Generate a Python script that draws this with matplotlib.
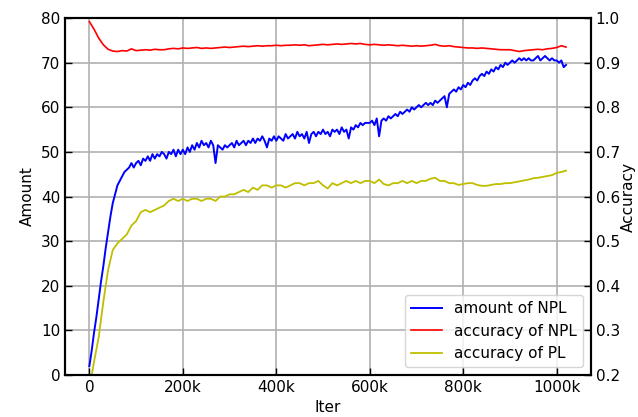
import numpy as np
import matplotlib
matplotlib.use("Agg")
import matplotlib.pyplot as plt

FS = 11

plt.rcParams.update({
    "font.family": "DejaVu Sans",
    "font.size": FS,
    "xtick.direction": "in",
    "ytick.direction": "in",
})

# iterations in thousands
npl_amount_x = list(range(0, 1021, 5))
npl_amount = [
    2, 5.5, 9.5, 13, 17, 21, 24.5, 28.5, 32, 35.5,
    38.5, 40.5, 42.5, 43.5, 44.5, 45.5, 46, 46.5, 47.5, 46.5,
    47.5, 48, 47, 48.5, 48, 49, 48, 49.5, 48.5, 49.5,
    49, 50, 49.5, 48.5, 50, 49.5, 50.5, 49, 50.5, 49.5,
    50.5, 49.5, 51, 50, 51.5, 50.5, 52, 51, 52.5, 51.5,
    52, 51, 52.5, 51.5, 47.5, 51.5, 51, 50.5, 51.5, 51,
    51.5, 52, 51, 52.5, 51.5, 52, 52.5, 51.5, 52.5, 52,
    53, 52, 53, 52.5, 53.5, 52.5, 51, 53, 52.5, 53.5,
    52.5, 53.5, 53, 52.5, 54, 53, 53.5, 54, 53, 54.5,
    53.5, 54, 53, 54.5, 52, 54, 54.5, 53.5, 54.5, 54,
    55, 54, 54.5, 53.5, 55, 54.5, 55, 54, 55.5, 54.5,
    55, 53, 55.5, 55, 56, 55.5, 56.5, 56, 56.5, 56.5,
    56.5, 57, 56, 57.5, 53.5, 57, 57.5, 57, 58, 57.5,
    58, 58.5, 58, 59, 58.5, 59, 59.5, 59, 60, 59.5,
    60, 60.5, 60, 60.5, 61, 60.5, 61, 60.5, 61.5, 61,
    61.5, 62, 62.5, 60, 63, 63.5, 64, 63.5, 64.5, 64,
    65, 64.5, 65.5, 65, 66, 66.5, 66, 67, 67.5, 67,
    68, 67.5, 68.5, 68, 69, 68.5, 69.5, 69, 70, 69.5,
    70, 70.5, 70, 70.5, 71, 70.5, 71, 70.5, 71, 70.5,
    70.5, 71, 71.5, 70.5, 71, 71.5, 71, 70.5, 71, 70.5,
    70.5, 70, 70.5, 69, 69.5,
]

acc_x = list(range(0, 1021, 10))
npl_acc = [
    0.992, 0.975, 0.955, 0.940, 0.930, 0.926, 0.925, 0.927, 0.926, 0.931,
    0.927, 0.928, 0.929, 0.928, 0.930, 0.929, 0.929, 0.931, 0.932, 0.931,
    0.933, 0.932, 0.933, 0.934, 0.932, 0.933, 0.932, 0.933, 0.934, 0.935,
    0.934, 0.935, 0.936, 0.937, 0.936, 0.937, 0.938, 0.937, 0.938, 0.938,
    0.939, 0.938, 0.939, 0.939, 0.940, 0.939, 0.940, 0.938, 0.939, 0.940,
    0.941, 0.940, 0.941, 0.942, 0.941, 0.942, 0.943, 0.942, 0.943, 0.941,
    0.940, 0.941, 0.940, 0.939, 0.940, 0.939, 0.938, 0.939, 0.938, 0.937,
    0.938, 0.937, 0.938, 0.939, 0.941, 0.938, 0.937, 0.938, 0.936, 0.935,
    0.934, 0.933, 0.933, 0.932, 0.933, 0.932, 0.931, 0.930, 0.929, 0.929,
    0.929, 0.927, 0.925, 0.927, 0.928, 0.929, 0.930, 0.929, 0.931, 0.932,
    0.934, 0.938, 0.935,
]

pl_x = [5] + list(range(10, 1021, 10))
pl_acc_amount = [
    0, 3, 8.5, 16.5, 23.5, 28, 29.5, 30.5, 31.5, 33.5,
    34.5, 36.5, 37, 36.5, 37, 37.5, 38, 39, 39.5, 39,
    39.5, 39, 39.5, 39.5, 39, 39.5, 39.5, 39, 40, 40,
    40.5, 40.5, 41, 41.5, 41, 42, 41.5, 42.5, 42.5, 42,
    42.5, 42.5, 42, 42.5, 43, 43, 42.5, 43, 43, 43.5,
    42.5, 41.8, 43, 42.5, 43, 43.5, 43, 43.5, 43, 43.5,
    43.5, 43, 43.8, 42.8, 42.5, 43, 43, 43.5, 43, 43.5,
    43, 43.5, 43.5, 44, 44.2, 43.5, 43.5, 43, 43, 42.6,
    42.8, 43, 43, 42.6, 42.4, 42.4, 42.6, 42.8, 42.8, 43,
    43, 43.2, 43.4, 43.6, 43.8, 44.1, 44.2, 44.4, 44.6, 44.8,
    45.3, 45.5, 45.8,
]
# accuracy of PL on the right axis scale
pl_acc = [0.2 + v / 100 for v in pl_acc_amount]

x_ticks = [0, 200, 400, 600, 800, 1000]
x_tick_labels = ["0", "200k", "400k", "600k", "800k", "1000k"]

fig = plt.figure(figsize=(6.38, 4.17), dpi=100)
ax = fig.add_axes([0.102, 0.1007, 0.824, 0.856])
ax2 = ax.twinx()

l1, = ax.plot(npl_amount_x, npl_amount, color="b", linewidth=1.4,
              label="amount of NPL")
l2, = ax2.plot(acc_x, npl_acc, color="r", linewidth=1.2,
               label="accuracy of NPL")
l3, = ax2.plot(pl_x, pl_acc, color="y", linewidth=1.3,
               label="accuracy of PL")

ax.set_xlim(-52, 1073)
ax.set_ylim(0, 80)
ax2.set_ylim(0.2, 1.0)
ax.set_xticks(x_ticks)
ax.set_xticklabels(x_tick_labels)
ax.set_yticks(np.arange(0, 81, 10))
ax2.set_yticks(np.arange(0.2, 1.01, 0.1))
ax2.set_yticklabels([f"{v:.1f}" for v in np.arange(0.2, 1.01, 0.1)])

ax.grid(True, color="#b0b0b0", linewidth=1.2)
ax.set_xlabel("Iter")
ax.set_ylabel("Amount")
ax2.set_ylabel("Accuracy", labelpad=1)

for a in (ax, ax2):
    a.tick_params(length=5, width=1)
    for s in a.spines.values():
        s.set_linewidth(1.5)

ax2.legend(handles=[l1, l2, l3], loc="lower right", fontsize=FS,
           framealpha=0.8)

fig.savefig("out.png", dpi=100)
